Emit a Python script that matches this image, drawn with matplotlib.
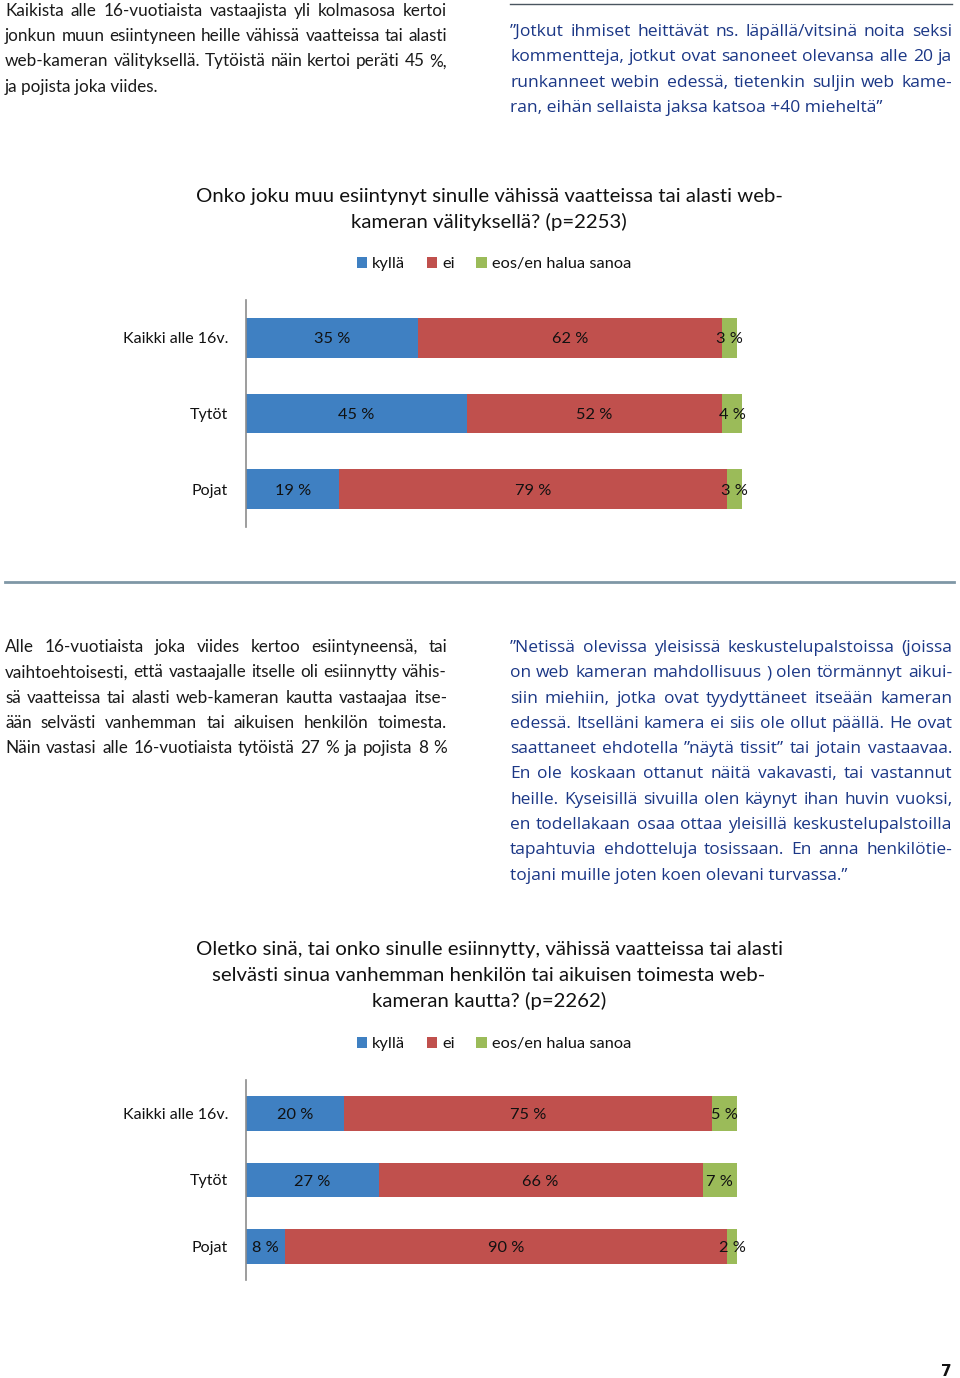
import matplotlib
matplotlib.use("Agg")
import matplotlib.pyplot as plt
from matplotlib.lines import Line2D

W, H = 960, 1378
DPI = 100

# ---------------- data ----------------
categories = ["Kaikki alle 16v.", "Tytöt", "Pojat"]
series_names = ["kyllä", "ei", "eos/en halua sanoa"]

q1_kylla = [35, 45, 19]
q1_ei = [62, 52, 79]
q1_eos = [3, 4, 3]

q2_kylla = [20, 27, 8]
q2_ei = [75, 66, 90]
q2_eos = [5, 7, 2]

title1 = ["Onko joku muu esiintynyt sinulle vähissä vaatteissa tai alasti web-",
          "kameran välityksellä? (p=2253)"]
title2 = ["Oletko sinä, tai onko sinulle esiinnytty, vähissä vaatteissa tai alasti",
          "selvästi sinua vanhemman henkilön tai aikuisen toimesta web-",
          "kameran kautta? (p=2262)"]

para1 = ["Kaikista alle 16-vuotiaista vastaajista yli kolmasosa kertoi",
         "jonkun muun esiintyneen heille vähissä vaatteissa tai alasti",
         "web-kameran välityksellä. Tytöistä näin kertoi peräti 45 %,",
         "ja pojista joka viides."]
quote1 = ["”Jotkut ihmiset heittävät ns. läpällä/vitsinä noita seksi",
          "kommentteja, jotkut ovat sanoneet olevansa alle 20 ja",
          "runkanneet webin edessä, tietenkin suljin web kame-",
          "ran, eihän sellaista jaksa katsoa +40 mieheltä”"]
para2 = ["Alle 16-vuotiaista joka viides kertoo esiintyneensä, tai",
         "vaihtoehtoisesti, että vastaajalle itselle oli esiinnytty vähis-",
         "sä vaatteissa tai alasti web-kameran kautta vastaajaa itse-",
         "ään selvästi vanhemman tai aikuisen henkilön toimesta.",
         "Näin vastasi alle 16-vuotiaista tytöistä 27 % ja pojista 8 %"]
quote2 = ["”Netissä olevissa yleisissä keskustelupalstoissa (joissa",
          "on web kameran mahdollisuus ) olen törmännyt aikui-",
          "siin miehiin, jotka ovat tyydyttäneet itseään kameran",
          "edessä. Itselläni kamera ei siis ole ollut päällä. He ovat",
          "saattaneet ehdotella ”näytä tissit” tai jotain vastaavaa.",
          "En ole koskaan ottanut näitä vakavasti, tai vastannut",
          "heille. Kyseisillä sivuilla olen käynyt ihan huvin vuoksi,",
          "en todellakaan osaa ottaa yleisillä keskustelupalstoilla",
          "tapahtuvia ehdotteluja tosissaan. En anna henkilötie-",
          "tojani muille joten koen olevani turvassa.”"]

# ---------------- style ----------------
C_BLUE = "#3F80C2"
C_RED = "#C0504D"
C_GREEN = "#9BBB59"
C_QUOTE = "#1B3786"
CHART_FONT = "Lato"
TEXT_FONT = "Lato"
QUOTE_FONT = "Open Sans"

fig = plt.figure(figsize=(W / DPI, H / DPI), dpi=DPI)
fig.patch.set_facecolor("white")
renderer = fig.canvas.get_renderer()


def fx(x):
    return x / W


def fy(y):
    return 1 - y / H


def fit_size(lines, width, base, maxsize, **kw):
    """Largest font size (<= maxsize) at which every justified line fits naturally."""
    best = maxsize
    for line in lines:
        t = fig.text(0, 0, line, fontsize=base, **kw)
        w = t.get_window_extent(renderer).width
        t.remove()
        best = min(best, base * width / w * 0.985)
    return best


def draw_para(lines, x0, x1, y0, dy, maxsize, justify_last=False, **kw):
    jl = lines if justify_last else lines[:-1]
    fs = fit_size(jl, x1 - x0, 12, maxsize, **kw)
    for i, line in enumerate(lines):
        yb = y0 + i * dy
        last = (i == len(lines) - 1)
        if last and not justify_last:
            fig.text(fx(x0), fy(yb), line, ha="left", va="baseline", fontsize=fs, **kw)
            continue
        words = line.split(" ")
        ts = [fig.text(0, 0, w, ha="left", va="baseline", fontsize=fs, **kw) for w in words]
        widths = [t.get_window_extent(renderer).width for t in ts]
        gap = (x1 - x0 - sum(widths)) / max(len(words) - 1, 1)
        x = x0
        for t, w in zip(ts, widths):
            t.set_position((fx(x), fy(yb)))
            x += w + gap


# paragraphs
para_kw = dict(family=TEXT_FONT, color="#1a1a1a")
quote_kw = dict(family=QUOTE_FONT, color=C_QUOTE)

draw_para(para1, 5, 447, 16, 25.2, 13.6, **para_kw)
draw_para(quote1, 510, 952, 36, 25.4, 12.9, **quote_kw)
draw_para(para2, 5, 447, 652, 25.3, 13.6, justify_last=True, **para_kw)
draw_para(quote2, 510, 952, 652, 25.3, 12.9, **quote_kw)

# rules
fig.add_artist(Line2D([fx(510), fx(952)], [fy(4), fy(4)], color="#4a5560", lw=1.0))
fig.add_artist(Line2D([fx(5), fx(954)], [fy(582), fy(582)], color="#7F97A6", lw=2.0))

# page number
fig.text(fx(952), fy(1376), "7", ha="right", va="baseline", fontsize=11,
         fontweight="bold", family="DejaVu Sans", color="#111111")


def draw_chart(top, bottom, kylla, ei, eos, title_lines, title_y0, legend_y):
    x_left, x_right = 246, 737
    ax = fig.add_axes([fx(x_left), fy(bottom), (x_right - x_left) / W, (bottom - top) / H])
    ypos = list(range(len(categories)))
    h = 0.52
    b1 = ax.barh(ypos, kylla, height=h, color=C_BLUE, clip_on=False, label=series_names[0])
    left2 = kylla
    b2 = ax.barh(ypos, ei, left=left2, height=h, color=C_RED, clip_on=False, label=series_names[1])
    left3 = [a + b for a, b in zip(kylla, ei)]
    b3 = ax.barh(ypos, eos, left=left3, height=h, color=C_GREEN, clip_on=False, label=series_names[2])
    for i in ypos:
        for left, val in ((0, kylla[i]), (left2[i], ei[i]), (left3[i], eos[i])):
            ax.text(left + val / 2, i, f"{val} %", ha="center", va="center_baseline",
                    fontsize=11.8, family=CHART_FONT, color="#111111")
    ax.set_xlim(0, 100)
    ax.set_ylim(len(categories) - 0.5, -0.5)
    ax.set_yticks(ypos)
    ax.set_yticklabels(categories, fontsize=11.5, family=CHART_FONT, color="#111111")
    ax.tick_params(axis="y", length=0, pad=13)
    ax.set_xticks([])
    for s in ("top", "right", "bottom"):
        ax.spines[s].set_visible(False)
    ax.spines["left"].set_color("#8c8c8c")
    ax.spines["left"].set_linewidth(1.2)
    ax.set_facecolor("none")
    for i, line in enumerate(title_lines):
        fig.text(fx(489), fy(title_y0 + i * 26.2), line, ha="center", va="baseline",
                 fontsize=14.7, family=CHART_FONT, color="#111111")
    leg = fig.legend(handles=[b1, b2, b3], loc="center", bbox_to_anchor=(fx(494), fy(legend_y)),
                     ncol=3, frameon=False, handlelength=0.65, handleheight=0.65,
                     handletextpad=0.3, columnspacing=1.3,
                     prop=dict(family=CHART_FONT, size=11.8))
    for t in leg.get_texts():
        t.set_color("#111111")
    return ax


draw_chart(300, 527, q1_kylla, q1_ei, q1_eos, title1, 202, 264)
draw_chart(1080, 1280, q2_kylla, q2_ei, q2_eos, title2, 955, 1044)

fig.savefig("out.png", dpi=DPI, facecolor="white")
